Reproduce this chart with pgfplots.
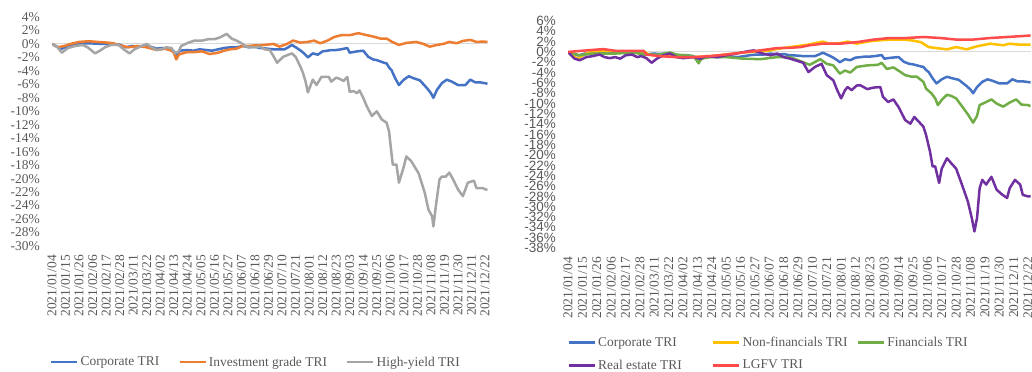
\documentclass[border=0pt]{standalone}
\usepackage{fontspec}
\setmainfont{Liberation Serif}
\setsansfont{Liberation Sans}
\usepackage{pgfplots}
\pgfplotsset{compat=1.18}
\definecolor{txt}{HTML}{595959}
\definecolor{zl}{HTML}{D9D9D9}
\definecolor{cblue}{HTML}{4472C4}
\definecolor{corange}{HTML}{ED7D31}
\definecolor{cgray}{HTML}{A5A5A5}
\definecolor{cyellow}{HTML}{FFC000}
\definecolor{cgreen}{HTML}{70AD47}
\definecolor{cpurple}{HTML}{7030A0}
\definecolor{cred}{HTML}{FF4B4B}

\pgfplotstableread{
d v
0 0
4 -0.4
8 -0.7
13 -0.3
20 -0.1
25 0.05
30 0.1
35 0.05
43 0.0
50 -0.1
55 -0.1
60 -0.5
65 -0.3
70 -0.4
75 -0.3
80 -0.4
85 -0.7
90 -0.6
95 -0.8
99 -1.1
101 -1.6
104 -1.0
110 -0.9
115 -1.0
120 -0.8
125 -0.9
130 -1.0
135 -0.8
140 -0.6
145 -0.5
150 -0.5
155 -0.3
160 -0.5
165 -0.4
169 -0.6
175 -0.7
180 -0.8
185 -0.8
189 -0.8
192 -0.5
195 -0.15
199 -0.6
203 -1.1
206 -1.6
208 -2.0
212 -1.4
216 -1.6
220 -1.1
224 -1.0
227 -0.9
231 -0.9
235 -0.8
240 -0.6
242 -1.3
245 -1.2
248 -1.1
253 -1.0
257 -1.9
261 -2.3
264 -2.4
267 -2.6
270 -2.8
272 -2.9
274 -3.5
276 -3.9
279 -5.1
282 -6.1
284 -5.7
286 -5.3
290 -4.8
294 -5.1
299 -5.4
302 -6.0
305 -6.6
308 -7.3
310 -8.0
313 -6.8
317 -5.8
321 -5.3
325 -5.6
330 -6.1
336 -6.1
340 -5.3
344 -5.7
348 -5.7
354 -5.9
}\corp

\pgfplotstableread{
d v
0 0
5 -0.5
10 -0.3
15 0.0
22 0.3
30 0.4
37 0.3
45 0.2
50 0.1
55 -0.2
62 -0.5
70 -0.3
77 -0.5
85 -0.9
92 -0.7
97 -1.0
99 -1.3
101 -2.3
103 -1.6
106 -1.4
110 -1.2
116 -1.2
122 -1.1
128 -1.5
135 -1.3
140 -1.0
145 -0.8
150 -0.7
155 -0.3
160 -0.3
165 -0.2
169 -0.2
175 -0.1
180 0.0
185 -0.4
191 0.0
196 0.5
202 0.2
208 0.3
213 0.5
218 0.1
224 0.5
229 1.0
235 1.3
242 1.3
249 1.6
256 1.3
261 1.1
267 0.8
272 0.8
276 0.35
282 -0.15
288 0.15
296 0.3
302 0.0
307 -0.4
313 -0.15
318 0.0
323 0.3
329 0.1
334 0.45
340 0.6
345 0.3
350 0.35
354 0.3
}\ig

\pgfplotstableread{
d v
0 0
4 -0.4
8 -1.3
13 -0.6
19 -0.3
25 -0.15
29 -0.5
35 -1.4
39 -1.0
43 -0.5
48 -0.15
54 -0.15
59 -0.9
63 -1.4
67 -0.8
73 -0.3
77 0.0
81 -0.5
85 -0.9
89 -0.8
93 -0.5
97 -0.6
100 -1.4
103 -1.1
105 -0.3
111 0.2
116 0.5
122 0.5
127 0.7
132 0.7
137 1.0
142 1.5
146 0.8
150 0.5
154 0.1
158 -0.4
164 -0.5
169 -0.4
173 -0.8
177 -0.9
180 -1.8
183 -2.8
188 -1.9
195 -1.4
198 -1.9
202 -3.4
204 -4.3
206 -5.5
208 -7.2
212 -5.3
215 -6.1
219 -4.9
225 -4.9
227 -5.6
231 -5.0
234 -5.2
237 -5.5
240 -4.9
242 -7.1
245 -7.0
248 -7.3
250 -6.9
253 -8.0
256 -9.3
260 -10.7
264 -10.0
268 -11.2
272 -11.7
274 -13.0
275 -14.7
277 -17.9
280 -17.9
282 -20.6
286 -18.2
288 -16.7
292 -17.4
298 -19.2
303 -22.1
306 -24.6
309 -25.6
310 -27.1
312 -24.1
315 -20.1
317 -19.7
320 -19.7
323 -19.1
326 -20.1
330 -21.6
334 -22.6
338 -20.6
343 -20.3
345 -21.4
350 -21.4
354 -21.7
}\hy

\pgfplotstableread{
d v
0 0
7 -1.3
14 -0.3
19 0.1
30 0.2
40 0.1
50 0.1
58 0.1
62 -0.5
70 -0.8
80 -0.9
96 -1.0
105 -0.9
121 -0.5
134 -0.1
147 0.1
155 0.3
160 0.6
166 0.8
170 0.95
183 1.4
195 2.0
200 1.6
208 1.7
214 2.0
221 1.6
229 2.0
236 2.2
246 2.4
257 2.4
264 2.2
270 1.9
276 0.95
282 0.75
290 0.5
297 0.95
305 0.5
313 1.1
323 1.6
333 1.3
338 1.6
346 1.4
354 1.4
}\nonfin

\pgfplotstableread{
d v
0 0
9 -0.65
19 -0.3
37 -0.3
50 -0.1
58 -0.5
70 -0.5
78 -0.1
83 -0.5
96 -0.8
100 -2.2
102 -1.3
109 -1.0
121 -1.0
134 -1.3
147 -1.4
160 -1.0
170 -1.0
180 -2.0
185 -2.5
193 -1.4
198 -2.3
203 -2.6
208 -4.2
212 -3.6
216 -4.0
221 -2.9
229 -2.6
237 -2.5
240 -2.1
244 -3.3
249 -3.0
254 -3.8
258 -4.5
263 -4.8
267 -4.8
272 -5.8
274 -7.1
278 -8.0
281 -9.0
283 -10.3
286 -9.3
290 -8.3
293 -8.5
297 -9.0
302 -10.7
306 -12.1
310 -13.7
313 -12.4
315 -10.3
320 -9.7
324 -9.2
328 -10.0
333 -10.6
338 -9.8
343 -9.2
347 -10.2
352 -10.3
354 -10.5
}\fin

\pgfplotstableread{
d v
0 0
5 -1.3
9 -1.6
14 -1.0
19 -0.8
24 -0.5
28 -1.0
32 -1.2
36 -1.0
40 -1.3
44 -0.65
49 -0.5
53 -1.0
56 -0.8
60 -1.2
64 -2.1
68 -1.3
73 -0.65
78 -0.3
83 -1.0
88 -1.2
96 -1.0
101 -1.3
106 -0.8
114 -1.0
121 -0.65
129 -0.3
137 0.1
142 0.3
149 -0.3
155 -0.65
160 -0.3
165 -1.0
170 -1.3
180 -2.1
184 -3.9
189 -2.9
194 -2.3
198 -4.5
203 -5.5
206 -7.4
209 -9.0
212 -7.4
214 -6.8
217 -7.4
221 -6.5
224 -6.5
229 -7.2
234 -6.9
239 -6.8
241 -8.7
245 -9.7
249 -9.2
253 -10.7
258 -13.2
262 -13.9
265 -12.6
268 -13.4
272 -14.5
274 -16.1
277 -19.3
279 -22.2
281 -22.2
284 -25.4
286 -22.6
290 -20.6
293 -21.5
297 -22.6
302 -26.1
306 -29.0
309 -32.2
311 -34.8
313 -32.2
315 -26.4
317 -24.8
320 -25.7
324 -24.2
328 -26.7
332 -27.6
336 -28.3
338 -26.4
342 -24.8
346 -25.7
348 -27.7
352 -28.0
354 -28.0
}\realest

\pgfplotstableread{
d v
0 0
9 0.2
19 0.4
27 0.55
37 0.2
58 0.2
60 -0.5
70 -0.8
83 -1.0
96 -1.0
109 -0.8
121 -0.5
134 -0.1
147 0.3
160 0.75
170 0.8
178 0.95
185 1.3
195 1.6
208 1.6
221 1.9
234 2.4
246 2.7
259 2.7
272 2.9
285 2.7
297 2.4
310 2.4
323 2.7
336 2.9
349 3.1
354 3.2
}\lgfv

\pgfplotsset{
  common/.style={
    scale only axis,
    enlargelimits=false,
    axis line style={draw=none},
    major tick length=0pt,
    /pgf/number format/assume math mode=true,
    ticklabel style={font=\fontsize{13.5}{15}\selectfont, text=txt},
    xmin=0, xmax=354,
    xtick={0,11,...,352},
    xticklabels={2021/01/04,2021/01/15,2021/01/26,2021/02/06,2021/02/17,2021/02/28,2021/03/11,2021/03/22,2021/04/02,2021/04/13,2021/04/24,2021/05/05,2021/05/16,2021/05/27,2021/06/07,2021/06/18,2021/06/29,2021/07/10,2021/07/21,2021/08/01,2021/08/12,2021/08/23,2021/09/03,2021/09/14,2021/09/25,2021/10/06,2021/10/17,2021/10/28,2021/11/08,2021/11/19,2021/11/30,2021/12/11,2021/12/22},
    xticklabel style={rotate=90, anchor=east, inner sep=0pt},
    xticklabel shift=9bp,
    yticklabel style={anchor=east, inner sep=0pt},
    yticklabel shift=12bp,
    yticklabel={\pgfmathprintnumber{\tick}\%},
    extra y ticks={0},
    extra y tick labels={\empty},
    extra y tick style={grid=major, major grid style={draw=zl, line width=1bp}},
    legend style={draw=none, fill=none, text=txt, font=\fontsize{13.5}{15}\selectfont, nodes={inner xsep=2bp, inner ysep=3.5bp}},
    legend cell align=left,
    legend image code/.code={\draw[#1, line width=2.6bp] (0bp,0bp) -- (26bp,0bp);},
    every axis plot/.append style={line width=2.5bp, line join=round},
  }
}

\begin{document}
\begin{tikzpicture}
\path[use as bounding box] (0bp,0bp) rectangle (1032bp,372bp);
\begin{axis}[common,
  at={(52bp,126bp)}, anchor=south west,
  width=435.5bp, height=229bp,
  ymin=-30, ymax=4, ytick={-30,-28,...,4},
  legend columns=3,
  legend style={at={(-0.012,-0.507)}, anchor=west, /tikz/every even column/.append style={column sep=17bp}},
]
\addplot[cblue] table[x=d,y=v] {\corp};
\addlegendentry{Corporate TRI}
\addplot[corange] table[x=d,y=v] {\ig};
\addlegendentry{Investment grade TRI}
\addplot[cgray] table[x=d,y=v] {\hy};
\addlegendentry{High-yield TRI}
\end{axis}

\begin{axis}[common,
  at={(568bp,124bp)}, anchor=south west,
  width=462.6bp, height=227bp,
  ymin=-38, ymax=6, ytick={-38,-36,...,6},
  yticklabel style={font=\sffamily\fontsize{13.5}{15}\selectfont},
  legend columns=3,
  legend style={at={(-0.008,-0.466)}, anchor=west, nodes={inner ysep=6bp}},
]
\addplot[cblue] table[x=d,y=v] {\corp};
\addlegendentry{\makebox[112bp][l]{Corporate TRI}}
\addplot[cyellow] table[x=d,y=v] {\nonfin};
\addlegendentry{\makebox[112bp][l]{Non-financials TRI}}
\addplot[cgreen] table[x=d,y=v] {\fin};
\addlegendentry{Financials TRI}
\addplot[cpurple] table[x=d,y=v] {\realest};
\addlegendentry{\makebox[112bp][l]{Real estate TRI}}
\addplot[cred] table[x=d,y=v] {\lgfv};
\addlegendentry{LGFV TRI}
\end{axis}
\end{tikzpicture}
\end{document}
